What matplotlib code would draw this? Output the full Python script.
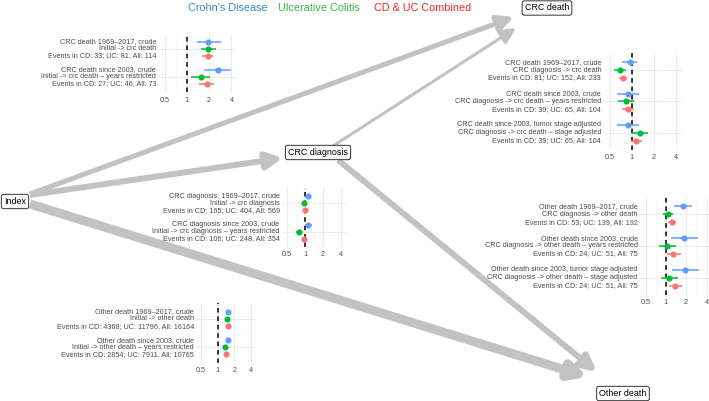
import numpy as np
import matplotlib
matplotlib.use("Agg")
import matplotlib.pyplot as plt
from matplotlib.patches import FancyArrowPatch
from matplotlib.ticker import NullFormatter

plt.rcParams['font.family'] = ['Liberation Sans', 'DejaVu Sans']

W, H = 709, 401

series_names = ["Crohn's Disease", "Ulcerative Colitis", "CD & UC Combined"]
point_colors = ["#619CFF", "#00BA38", "#F8766D"]
title_colors = ["#3D88D6", "#3DB54A", "#F2262B"]

# rows = models, columns = CD, UC, combined
# Index -> CRC death
p1_labels = ["CRC death 1969–2017, crude\nInitial -> crc death\nEvents in CD: 33; UC: 81, All: 114",
             "CRC death since 2003, crude\nInitial -> crc death – years restricted\nEvents in CD: 27; UC: 46, All: 73"]
p1_est = [[1.90, 1.92, 1.90], [2.66, 1.54, 1.85]]
p1_lo = [[1.35, 1.54, 1.59], [1.71, 1.13, 1.44]]
p1_hi = [[2.87, 2.44, 2.28], [4.00, 2.05, 2.30]]

# Index -> CRC diagnosis
p2_labels = ["CRC diagnosis, 1969–2017, crude\nInitial -> crc diagnosis\nEvents in CD: 165; UC: 404, All: 569",
             "CRC diagnosis since 2003, crude\nInitial -> crc diagnosis – years restricted\nEvents in CD: 106; UC: 248, All: 354"]
p2_est = [[1.14, 0.96, 1.01], [1.14, 0.80, 0.96]]
p2_lo = [[1.05, 0.90, 0.96], [1.00, 0.72, 0.88]]
p2_hi = [[1.25, 1.02, 1.06], [1.30, 0.90, 1.05]]

# Index -> other death
p3_labels = ["Other death 1969–2017, crude\nInitial -> other death\nEvents in CD: 4368; UC: 11796, All: 16164",
             "Other death since 2003, crude\nInitial -> other death – years restricted\nEvents in CD: 2854; UC: 7911, All: 10765"]
p3_est = [[1.54, 1.45, 1.51], [1.53, 1.35, 1.39]]
p3_lo = [[1.48, 1.42, 1.48], [1.45, 1.31, 1.35]]
p3_hi = [[1.60, 1.48, 1.54], [1.61, 1.39, 1.43]]

# CRC diagnosis -> CRC death
p4_labels = ["CRC death 1969–2017, crude\nCRC diagnosis -> crc death\nEvents in CD: 81; UC: 152, All: 233",
             "CRC death since 2003, crude\nCRC diagnosis -> crc death – years restricted\nEvents in CD: 39; UC: 65, All: 104",
             "CRC death since 2003, tumor stage adjusted\nCRC diagnosis -> crc death – stage adjusted\nEvents in CD: 39; UC: 65, All: 104"]
p4_est = [[0.95, 0.69, 0.77], [0.90, 0.85, 0.90], [0.90, 1.30, 1.13]]
p4_lo = [[0.75, 0.58, 0.68], [0.64, 0.66, 0.73], [0.64, 1.01, 0.97]]
p4_hi = [[1.17, 0.83, 0.87], [1.27, 1.09, 1.08], [1.27, 1.69, 1.40]]

# CRC diagnosis -> other death
p5_labels = ["Other death 1969–2017, crude\nCRC diagnosis -> other death\nEvents in CD: 53; UC: 139, All: 192",
             "Other death since 2003, crude\nCRC diagnosis -> other death – years restricted\nEvents in CD: 24; UC: 51, All: 75",
             "Other death since 2003, tumor stage adjusted\nCRC diagnosis -> other death – stage adjusted\nEvents in CD: 24; UC: 51, All: 75"]
p5_est = [[1.78, 1.08, 1.22], [1.87, 1.05, 1.29], [1.93, 1.12, 1.37]]
p5_lo = [[1.33, 0.91, 1.08], [1.19, 0.79, 1.05], [1.24, 0.86, 1.11]]
p5_hi = [[2.44, 1.29, 1.41], [2.96, 1.41, 1.68], [3.06, 1.53, 1.72]]

fig = plt.figure(figsize=(W / 100, H / 100), dpi=100)

# background axes in pixel coordinates for the diagram
bg = fig.add_axes([0, 0, 1, 1])
bg.set_xlim(0, W)
bg.set_ylim(H, 0)
bg.axis('off')

# (start, end, line width)
arrows = [((30, 194), (514, 17), 3.6),
          ((333, 146), (516, 28), 2.2),
          ((30, 195), (283, 158), 4.3),
          ((30, 204), (588, 377), 6.5),
          ((338, 160), (597, 372), 4.3)]
for a, b, lw in arrows:
    bg.add_patch(FancyArrowPatch(a, b, arrowstyle='-|>', mutation_scale=24, lw=lw,
                                 color='#C2C2C2', shrinkA=0, shrinkB=0,
                                 joinstyle='round', capstyle='butt'))

nodes = [("Index", 15, 201.5), ("CRC diagnosis", 318, 152.5),
         ("CRC death", 547, 8), ("Other death", 623, 393.5)]
for name, x, y in nodes:
    bg.text(x, y, name, ha='center', va='center', fontsize=6.4, color='black',
            bbox=dict(boxstyle='round,pad=0.3,rounding_size=0.25', fc='white', ec='#333333', lw=0.7))

for name, c, x in zip(series_names, title_colors, [227.5, 319, 422.5]):
    fig.text(x / W, 1 - 8 / H, name, color=c, fontsize=7.8, ha='center', va='center')


def forest(p05, p4, g_first, g_last, labels, est, lo, hi):
    n = len(labels)
    sp = (g_last - g_first) / (n - 1)
    per = (p4 - p05) / 3
    e = 0.25
    left, right = p05 - e * per, p4 + e * per
    top, bottom = g_first - 0.55 * sp, g_last + 0.55 * sp
    ax = fig.add_axes([left / W, 1 - bottom / H, (right - left) / W, (bottom - top) / H])
    ax.patch.set_alpha(0)
    ax.set_xscale('log', base=2)
    ax.set_xlim(2 ** (-1 - e), 2 ** (2 + e))
    ax.set_ylim(n + 0.55, 0.45)
    ax.set_xticks([0.5, 1, 2, 4])
    ax.set_xticklabels(['0.5', '1', '2', '4'])
    ax.set_xticks([2 ** -0.5, 2 ** 0.5, 2 ** 1.5], minor=True)
    ax.xaxis.set_minor_formatter(NullFormatter())
    ax.set_yticks(np.arange(1, n + 1))
    ax.set_yticklabels([''] * n)
    ax.tick_params(axis='x', labelsize=5.2, labelcolor='#4D4D4D', length=0, pad=3)
    ax.tick_params(axis='y', length=0)
    ax.tick_params(which='minor', length=0)
    ax.grid(True, which='major', color='#EBEBEB', lw=0.7)
    ax.grid(True, which='minor', axis='x', color='#F3F3F3', lw=0.4)
    ax.set_axisbelow(True)
    for s in ax.spines.values():
        s.set_visible(False)
    ax.axvline(1, color='black', ls=(0, (3, 2.5)), lw=1.1, zorder=2)
    offs = [-0.25, 0, 0.25]
    for g in range(n):
        # three label lines sit on the three dodged rows
        for k, line in enumerate(labels[g].split('\n')):
            ax.annotate(line, xy=(0, g + 1 + offs[k]), xycoords=ax.get_yaxis_transform(),
                        xytext=(-2, 0), textcoords='offset points', ha='right', va='center',
                        fontsize=5.2, color='#4D4D4D', annotation_clip=False)
        for k in range(3):
            y = g + 1 + offs[k]
            ax.hlines(y, lo[g][k], hi[g][k], color=point_colors[k], lw=1.1, zorder=3)
            ax.plot(est[g][k], y, 'o', ms=3.4, color=point_colors[k], zorder=4)
    return ax


forest(164.5, 231.5, 49, 77, p1_labels, p1_est, p1_lo, p1_hi)
forest(287, 341, 203.3, 231.7, p2_labels, p2_est, p2_lo, p2_hi)
forest(201, 251, 319, 347.3, p3_labels, p3_est, p3_lo, p3_hi)
forest(609.5, 676, 70, 132.7, p4_labels, p4_est, p4_lo, p4_hi)
forest(645.5, 706.5, 214.3, 277.7, p5_labels, p5_est, p5_lo, p5_hi)

fig.savefig('out.png', dpi=100)
